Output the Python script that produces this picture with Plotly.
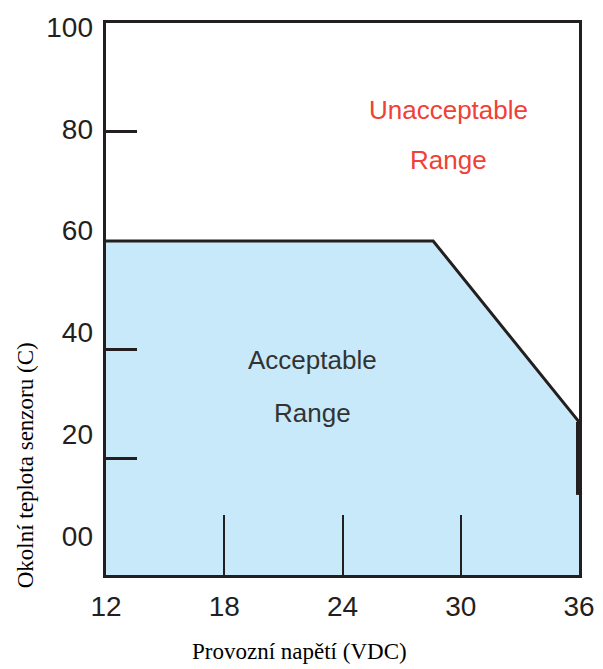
import plotly.graph_objects as go

# boundary of the acceptable region
volts = [12, 28.6, 36]
temp_limit = [60, 60, 26.8]
edge_volts = [36, 36]
edge_temp = [26.8, 13.4]

x_ticks = [12, 18, 24, 30, 36]
y_tick_marks = [20, 40, 80]
y_label_vals = [0, 20, 40, 60, 80, 100]
y_label_text = ["00", "20", "40", "60", "80", "100"]

y_min = -1.3

ink = "#231f20"
fill_blue = "#c7e9f9"
red = "#ef4136"
sans = "Liberation Sans Narrow, Arial Narrow, Liberation Sans, Arial, sans-serif"
serif = "Liberation Serif, Times New Roman, serif"

fig = go.Figure()

# filled acceptable area
fig.add_trace(go.Scatter(
    x=volts + [volts[-1], volts[0]],
    y=temp_limit + [y_min, y_min],
    fill="toself", fillcolor=fill_blue, mode="none",
    hoverinfo="skip", showlegend=False))

# limit line
fig.add_trace(go.Scatter(x=volts, y=temp_limit, mode="lines",
                         line=dict(color=ink, width=3), showlegend=False))
fig.add_trace(go.Scatter(x=edge_volts, y=edge_temp, mode="lines",
                         line=dict(color=ink, width=6), showlegend=False))

# invisible trace so the label axis gets drawn
fig.add_trace(go.Scatter(x=[12], y=[0], yaxis="y2", mode="markers",
                         marker=dict(opacity=0), showlegend=False,
                         hoverinfo="skip"))

# page body has an 8px margin, so the figure is 8px smaller
fig.update_layout(
    width=595, height=661,
    margin=dict(l=98, r=24, t=15, b=94),
    plot_bgcolor="white", paper_bgcolor="white",
    xaxis=dict(range=[12, 36], tickvals=x_ticks, ticks="inside",
               ticklen=60, tickwidth=2, tickcolor=ink,
               showline=True, mirror=True, linewidth=3, linecolor=ink,
               showgrid=False, zeroline=False, automargin=False,
               tickfont=dict(family=sans, size=28, color=ink),
               ticklabelstandoff=4),
    yaxis=dict(range=[y_min, 100], tickvals=y_tick_marks, ticks="inside",
               ticklen=31, tickwidth=3, tickcolor=ink,
               showticklabels=False, automargin=False,
               showline=True, mirror=True, linewidth=3, linecolor=ink,
               showgrid=False, zeroline=False),
    yaxis2=dict(range=[-7.7, 100.8], overlaying="y", side="left",
                tickvals=y_label_vals, ticktext=y_label_text, ticks="",
                showgrid=False, zeroline=False, showline=False,
                automargin=False,
                tickfont=dict(family=sans, size=28, color=ink),
                ticklabelstandoff=12),
)

# region labels
unacc_lines = ["Unacceptable", "Range"]
unacc_y = [84.0, 74.9]
acc_lines = ["Acceptable", "Range"]
acc_y = [38.2, 28.4]

for txt, yy in zip(unacc_lines, unacc_y):
    fig.add_annotation(x=29.4, y=yy, text=txt, showarrow=False,
                       font=dict(family=sans, size=26, color=red))
for txt, yy in zip(acc_lines, acc_y):
    fig.add_annotation(x=22.5, y=yy, text=txt, showarrow=False,
                       font=dict(family=sans, size=26, color="#333333"))

# axis titles
fig.add_annotation(xref="paper", yref="paper", x=0.41, y=-0.138,
                   xanchor="center", yanchor="middle",
                   text="Provozní napětí (VDC)", showarrow=False,
                   font=dict(family=serif, size=23, color="black"))
fig.add_annotation(xref="paper", yref="paper", x=-0.171, y=0.199,
                   xanchor="center", yanchor="middle",
                   text="Okolní teplota senzoru (C)", textangle=-90,
                   showarrow=False,
                   font=dict(family=serif, size=23, color="black"))

fig.write_html("out.html")
